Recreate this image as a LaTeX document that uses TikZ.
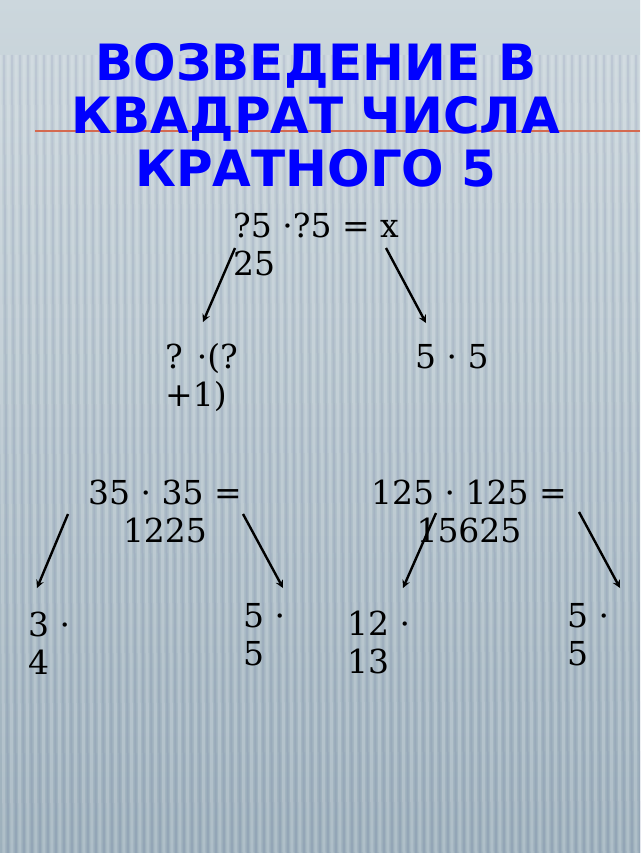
\documentclass[tikz,border=0pt]{standalone}
\usepackage{fontspec}
\setmainfont{DejaVu Serif}
\newfontfamily\titlefont{DejaVu Sans}
\usetikzlibrary{arrows}
\definecolor{bgtop}{HTML}{CCD7DD}
\definecolor{bgmid}{HTML}{B7C7CF}
\definecolor{bgbot}{HTML}{9DB0BC}
\definecolor{rule}{HTML}{D46A50}
\definecolor{ttl}{HTML}{0000FF}

\begin{document}
\begin{tikzpicture}[x=1pt,y=-1pt,every node/.style={inner sep=0pt,align=left,font=\fontsize{33}{38}\selectfont},
					title/.style={align=center,text=ttl,font=\titlefont\bfseries\fontsize{50}{53}\selectfont},
					arr/.style={-stealth,line width=2.4pt}
					]
					\useasboundingbox (0,0) rectangle (640,853);
					\shade[top color=bgtop,middle color=bgmid,bottom color=bgbot] (0,0) rectangle (640,853);
					\foreach \x in {0,8,...,640}{
						\draw[white,opacity=0.18,line width=3pt] (\x,55) -- (\x+4,853);
						\draw[black!60!blue,opacity=0.06,line width=2pt] (\x+4,55) -- (\x+8,853);}
					\draw[rule,line width=2pt] (35,131) -- (640,131);
					% base anchor sits on the last line
					\node[title,anchor=base] (ttl) at (316,186) {ВОЗВЕДЕНИЕ В\\КВАДРАТ ЧИСЛА\\КРАТНОГО 5};
					% first level
					\node[anchor=base west] (top) at (233,275) {?5 ·?5 = x\\25};
					\node[anchor=base west] (ml) at (165,406) {? ·(?\\+1)};
					\node[anchor=base west] (mr) at (415,368) {5 · 5};
					% second level
					\node[anchor=base,align=center] (b35) at (165,542) {35 · 35 =\\1225};
					\node[anchor=base,align=center] (b125) at (469,542) {125 · 125 =\\15625};
					\node[anchor=base west] (l1) at (28,674) {3 ·\\4};
					\node[anchor=base west] (l2) at (243,665) {5 ·\\5};
					\node[anchor=base west] (l3) at (347,673) {12 ·\\13};
					\node[anchor=base west] (l4) at (567,665) {5 ·\\5};
					% arrows
					\coordinate (a1) at (235,248); \coordinate (a1e) at (203,322);
					\coordinate (a2) at (386,248); \coordinate (a2e) at (426,323);
					\coordinate (b1) at (68,514); \coordinate (b1e) at (37,588);
					\coordinate (b2) at (243,514); \coordinate (b2e) at (283,588);
					\coordinate (c1) at (436,513); \coordinate (c1e) at (403,588);
					\coordinate (c2) at (579,512); \coordinate (c2e) at (620,588);
					\foreach \s in {a1,a2,b1,b2,c1,c2}
						\draw[arr] (\s) -- (\s e);
\end{tikzpicture}
\end{document}
